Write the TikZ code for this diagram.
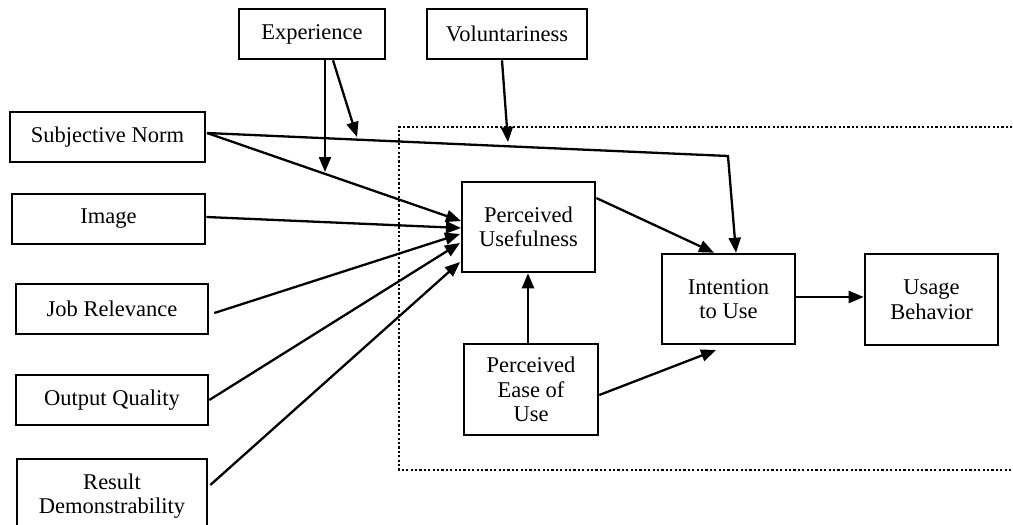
\documentclass[tikz,border=0pt]{standalone}
\usepackage{fontspec}
\setmainfont{Liberation Serif}
\usetikzlibrary{arrows.meta,calc}
\begin{document}
\begin{tikzpicture}[x=1pt,y=-1pt,
  box/.style={draw,line width=2.6pt,align=center,inner sep=0pt,
    font=\fontsize{22.5}{24.5}\selectfont},
  arr/.style={line width=2.3pt,-{Triangle[length=15pt,width=12pt]}},
  plain/.style={line width=2.3pt}]
\clip (0,0) rectangle (1013,525);
\fill[white] (0,0) rectangle (1013,525);
% dotted frame
\draw[line width=2.4pt,dash pattern=on 2.2pt off 2.2pt] (1030,127) -- (399,127) -- (399,470) -- (1030,470);
% nodes
\node[box,minimum width=146pt,minimum height=50pt] (exp) at (312,34) {Experience};
\node[box,minimum width=160pt,minimum height=50pt] (vol) at (507,34) {Voluntariness};
\node[box,minimum width=195pt,minimum height=50pt] (sn) at (107.5,137) {Subjective Norm};
\node[box,minimum width=193pt,minimum height=50pt] (img) at (108.5,219) {Image};
\node[box,minimum width=192pt,minimum height=50pt] (jr) at (112,309) {Job Relevance};
\node[box,minimum width=192pt,minimum height=50pt] (oq) at (112,400) {Output Quality};
\node[box,minimum width=190pt,minimum height=74pt] (rd) at (112,496) {Result\\Demonstrability};
\node[box,minimum width=133pt,minimum height=90pt] (pu) at (528.5,227) {Perceived\\Usefulness};
\node[box,minimum width=134pt,minimum height=91pt] (peou) at (531,389.5) {Perceived\\Ease of\\Use};
\node[box,minimum width=133pt,minimum height=90pt] (itu) at (728.5,299) {Intention\\to Use};
\node[box,minimum width=133pt,minimum height=91pt] (ub) at (931.5,299.5) {Usage\\Behavior};
% coordinates
\coordinate (snout) at (207,133);
\coordinate (bend) at (728,156);
\coordinate (expA) at (325,172);
\coordinate (expB) at (357,137);
\coordinate (volA) at (508,142);
\coordinate (pu1) at (461,221);
\coordinate (pu2) at (461,228);
\coordinate (pu3) at (460,234);
\coordinate (pu4) at (460,243);
\coordinate (pu5) at (460,262);
% connectors
\draw[arr] (snout) -- (pu1);
\draw[arr] (snout) -- (bend) -- (itu.north -| 736,0);
\draw[arr] (exp.south -| 325,0) -- (expA);
\draw[arr] (exp.south -| 333,0) -- (expB);
\draw[arr] (vol.south -| 502,0) -- (volA);
\draw[arr] (img.east |- 0,217) -- (pu2);
\draw[arr] ([xshift=5pt]jr.east |- 0,313) -- (pu3);
\draw[arr] (oq.east |- 0,400) -- (pu4);
\draw[arr] ([xshift=2pt]rd.east |- 0,485) -- (pu5);
\draw[arr] (pu.east |- 0,198) -- (itu.north -| 714,0);
\draw[arr] (peou.north -| 528,0) -- (pu.south -| 528,0);
\draw[arr] (peou.east |- 0,395) -- (716,350);
\draw[arr] (itu.east |- 0,297) -- (ub.west |- 0,297);
\end{tikzpicture}
\end{document}
